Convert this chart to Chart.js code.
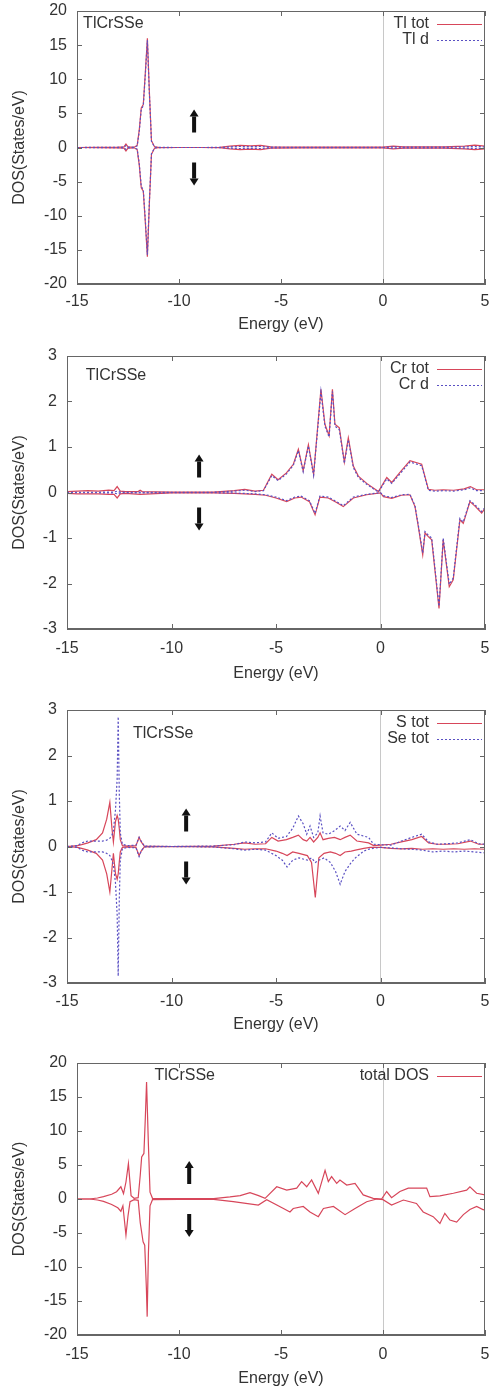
<!DOCTYPE html>
<html>
<head>
<meta charset="utf-8">
<title>TlCrSSe DOS</title>
<script src="https://cdn.jsdelivr.net/npm/chart.js@4.4.1/dist/chart.umd.min.js"></script>
<style>
  body { margin: 0; background: #fff; }
  .panel { position: absolute; left: 0; }
</style>
</head>
<body>
<canvas id="dosTl" class="panel" width="492" height="340" style="top:0px"></canvas>
<canvas id="dosCr" class="panel" width="492" height="350" style="top:340px"></canvas>
<canvas id="dosSSe" class="panel" width="492" height="350" style="top:690px"></canvas>
<canvas id="dosTot" class="panel" width="492" height="349" style="top:1040px"></canvas>
<script>
// tick labels
const energyTicks = [-15, -10, -5, 0, 5];
const dosTicks20 = [-20, -15, -10, -5, 0, 5, 10, 15, 20];
const dosTicks3 = [-3, -2, -1, 0, 1, 2, 3];

// Tl (panel 1)
const tlE = [-15, -14, -13, -12.7, -12.6, -12.5, -12.2, -12.05, -11.95, -11.85, -11.75, -11.65, -11.55, -11.45, -11.35, -11.2, -11, -10, -9, -8, -7.5, -7, -6.5, -6, -5.5, -4, -2, -1, 0, 0.5, 1, 2, 3, 4, 4.5, 5];
const tlTotUp = [0, 0.02, 0.05, 0.1, 0.5, 0.1, 0.05, 0.3, 2.5, 5.8, 6.3, 11, 16, 8, 1, 0.1, 0.02, 0, 0, 0.02, 0.2, 0.3, 0.25, 0.3, 0.1, 0.05, 0.05, 0.05, 0.05, 0.2, 0.1, 0.1, 0.1, 0.2, 0.35, 0.2];
const tlTotDn = [0, -0.02, -0.05, -0.1, -0.5, -0.1, -0.05, -0.3, -2.5, -5.9, -6.4, -11, -16, -8, -1, -0.1, -0.02, 0, 0, -0.02, -0.2, -0.3, -0.25, -0.3, -0.1, -0.05, -0.05, -0.05, -0.05, -0.2, -0.1, -0.1, -0.1, -0.2, -0.3, -0.2];
const tlDUp = [0, 0.01, 0.02, 0.05, 0.3, 0.05, 0.03, 0.25, 2.3, 5.6, 6.1, 10.7, 15.7, 7.8, 0.9, 0.08, 0.01, 0, 0, 0.01, 0.1, 0.15, 0.12, 0.15, 0.05, 0.02, 0.02, 0.02, 0.02, 0.1, 0.05, 0.05, 0.05, 0.1, 0.15, 0.1];
const tlDDn = [0, -0.01, -0.02, -0.05, -0.3, -0.05, -0.03, -0.25, -2.3, -5.7, -6.2, -10.7, -15.7, -7.8, -0.9, -0.08, -0.01, 0, 0, -0.01, -0.1, -0.15, -0.12, -0.15, -0.05, -0.02, -0.02, -0.02, -0.02, -0.1, -0.05, -0.05, -0.05, -0.1, -0.15, -0.1];

// Cr (panel 2)
const crUpE = [-15, -14.5, -14, -13.5, -13, -12.75, -12.6, -12.45, -12.2, -11.6, -11.5, -11.4, -10, -8, -7, -6.5, -6, -5.6, -5.2, -4.9, -4.5, -4.17, -3.93, -3.7, -3.45, -3.2, -2.85, -2.66, -2.46, -2.3, -2.18, -1.97, -1.73, -1.54, -1.3, -1.06, -0.66, -0.1, 0.3, 0.54, 0.93, 1.41, 1.97, 2.29, 2.6, 3, 3.5, 4, 4.3, 4.6, 5];
const crTotUp = [0.02, 0.03, 0.04, 0.03, 0.05, 0.04, 0.13, 0.03, 0.02, 0.02, 0.05, 0.02, 0.01, 0.01, 0.04, 0.07, 0.03, 0.05, 0.4, 0.28, 0.43, 0.62, 0.95, 0.48, 1.05, 0.4, 2.27, 1.5, 1.25, 2.27, 1.5, 1.42, 0.67, 1.2, 0.58, 0.36, 0.2, 0.02, 0.33, 0.22, 0.44, 0.7, 0.62, 0.07, 0.05, 0.06, 0.05, 0.08, 0.13, 0.06, 0.06];
const crDUp = [0.005, 0.005, 0.005, 0.005, 0.01, 0.01, 0.03, 0.01, 0.005, 0.005, 0.01, 0.005, 0.005, 0.005, 0.03, 0.05, 0.02, 0.04, 0.37, 0.26, 0.41, 0.6, 0.92, 0.46, 1.02, 0.38, 2.22, 1.46, 1.22, 2.22, 1.46, 1.38, 0.64, 1.16, 0.55, 0.33, 0.18, 0.01, 0.3, 0.2, 0.41, 0.67, 0.59, 0.05, 0.03, 0.04, 0.03, 0.06, 0.1, 0.04, 0.04];
const crDnE = [-15, -14.5, -14, -13.5, -13, -12.75, -12.6, -12.45, -12.2, -11.5, -10, -8, -7, -6, -5.5, -5, -4.49, -4.1, -3.8, -3.4, -3.13, -2.9, -2.5, -2.1, -1.78, -1.3, -0.66, 0, 0.14, 0.54, 1.0, 1.41, 1.65, 1.81, 2.02, 2.13, 2.29, 2.45, 2.8, 3.0, 3.29, 3.48, 3.8, 3.96, 4.28, 4.52, 4.84, 5];
const crTotDn = [-0.02, -0.03, -0.03, -0.03, -0.04, -0.04, -0.12, -0.03, -0.02, -0.04, -0.01, -0.01, -0.02, -0.04, -0.06, -0.12, -0.2, -0.12, -0.1, -0.2, -0.49, -0.1, -0.12, -0.22, -0.31, -0.12, -0.05, -0.01, -0.09, -0.13, -0.06, -0.05, -0.31, -0.75, -1.37, -0.89, -0.97, -1.04, -2.55, -1.04, -2.07, -1.92, -0.6, -0.68, -0.2, -0.3, -0.45, -0.35];
const crDDn = [-0.005, -0.005, -0.005, -0.005, -0.01, -0.01, -0.03, -0.01, -0.005, -0.01, -0.005, -0.005, -0.01, -0.03, -0.05, -0.1, -0.18, -0.1, -0.08, -0.18, -0.46, -0.08, -0.1, -0.2, -0.29, -0.1, -0.04, -0.005, -0.07, -0.11, -0.05, -0.04, -0.29, -0.72, -1.33, -0.86, -0.94, -1.0, -2.5, -1.0, -2.02, -1.88, -0.57, -0.65, -0.18, -0.27, -0.42, -0.33];

// S and Se (panel 3)
const ssUpE = [-15, -14.5, -14.3, -14, -13.6, -13.3, -13.1, -12.95, -12.85, -12.78, -12.68, -12.6, -12.55, -12.5, -12.45, -12.35, -12.1, -11.7, -11.55, -11.45, -11.3, -10, -8, -7, -6.5, -6, -5.5, -5.2, -4.9, -4.5, -4.2, -3.93, -3.7, -3.53, -3.37, -3.2, -3.0, -2.89, -2.75, -2.5, -2.2, -1.93, -1.7, -1.45, -1.13, -0.57, -0.33, 0, 0.5, 1.0, 1.5, 1.97, 2.3, 2.7, 3.2, 3.7, 4.3, 4.7, 5];
const sUp = [0, 0.02, 0.04, 0.08, 0.15, 0.3, 0.6, 0.97, 0.4, 0.1, 0.55, 0.68, 0.6, 0.4, 0.15, 0.02, 0.01, 0.02, 0.2, 0.1, 0.01, 0, 0.01, 0.05, 0.08, 0.05, 0.06, 0.2, 0.12, 0.15, 0.2, 0.25, 0.15, 0.12, 0.2, 0.1, 0.2, 0.3, 0.15, 0.18, 0.2, 0.15, 0.2, 0.25, 0.12, 0.08, 0.02, 0.03, 0.05, 0.1, 0.15, 0.22, 0.08, 0.05, 0.05, 0.06, 0.12, 0.05, 0.05];
const seUp = [0, 0.02, 0.08, 0.12, 0.12, 0.12, 0.14, 0.18, 0.25, 0.35, 0.8, 1.5, 2.85, 1.2, 0.3, 0.05, 0.02, 0.03, 0.2, 0.12, 0.01, 0, 0.01, 0.04, 0.1, 0.08, 0.1, 0.3, 0.18, 0.22, 0.4, 0.67, 0.5, 0.27, 0.45, 0.2, 0.3, 0.67, 0.3, 0.27, 0.35, 0.45, 0.35, 0.53, 0.27, 0.2, 0.05, 0.04, 0.03, 0.12, 0.2, 0.27, 0.1, 0.05, 0.06, 0.08, 0.15, 0.06, 0.05];
const ssDnE = [-15, -14.5, -14.3, -14, -13.6, -13.3, -13.1, -12.95, -12.85, -12.78, -12.68, -12.6, -12.55, -12.5, -12.45, -12.35, -12.1, -11.7, -11.55, -11.45, -11.3, -10, -8, -7, -6.5, -6, -5.5, -5.0, -4.7, -4.47, -4.2, -3.9, -3.5, -3.3, -3.12, -2.95, -2.7, -2.4, -2.15, -1.93, -1.7, -1.4, -1.2, -0.8, -0.5, 0, 0.5, 1.0, 1.5, 2.0, 2.5, 3.0, 3.5, 4.0, 4.5, 5];
const sDn = [0, -0.02, -0.04, -0.08, -0.15, -0.3, -0.6, -1.0, -0.5, -0.15, -0.6, -0.72, -0.6, -0.35, -0.12, -0.02, -0.01, -0.02, -0.2, -0.1, -0.01, 0, -0.01, -0.04, -0.06, -0.05, -0.05, -0.1, -0.15, -0.2, -0.12, -0.15, -0.2, -0.35, -1.12, -0.25, -0.15, -0.12, -0.15, -0.2, -0.12, -0.1, -0.08, -0.04, -0.02, -0.02, -0.04, -0.05, -0.04, -0.06, -0.05, -0.06, -0.05, -0.06, -0.05, -0.06];
const seDn = [0, -0.02, -0.08, -0.12, -0.12, -0.12, -0.15, -0.2, -0.3, -0.4, -0.8, -1.5, -2.85, -1.2, -0.3, -0.05, -0.02, -0.03, -0.22, -0.1, -0.01, 0, -0.01, -0.05, -0.08, -0.06, -0.08, -0.2, -0.3, -0.45, -0.3, -0.25, -0.3, -0.25, -0.35, -0.3, -0.25, -0.35, -0.55, -0.83, -0.55, -0.35, -0.25, -0.1, -0.05, -0.02, -0.03, -0.05, -0.06, -0.08, -0.12, -0.1, -0.12, -0.1, -0.12, -0.14];

// total DOS (panel 4)
const totUpE = [-15, -14.4, -14, -13.7, -13.3, -13.06, -12.85, -12.72, -12.6, -12.48, -12.35, -12.2, -12.0, -11.9, -11.83, -11.72, -11.65, -11.59, -11.5, -11.42, -11.3, -10, -8.3, -7.5, -7, -6.52, -6.1, -5.78, -5.21, -4.72, -4.23, -3.99, -3.74, -3.5, -3.17, -2.84, -2.68, -2.52, -2.27, -2.11, -1.78, -1.37, -0.97, -0.48, -0.07, 0.18, 0.42, 0.83, 1.24, 2.14, 2.3, 2.79, 3.45, 4.1, 4.26, 4.59, 5];
const totUp = [0, 0, 0.15, 0.34, 0.7, 1.08, 1.8, 0.8, 2.5, 5.2, 0.5, 0.1, 0.2, 3.5, 6.2, 6.7, 12, 17.2, 8, 1, 0.1, 0.05, 0.05, 0.3, 0.5, 0.93, 0.5, 0.1, 1.8, 1.3, 1.6, 2.55, 1.8, 2.8, 0.83, 4.2, 2.55, 3.3, 2.3, 2.8, 2.06, 2.3, 0.6, 0.1, 0.0, 1.1, 0.2, 1.1, 1.6, 1.6, 0.35, 0.45, 0.85, 1.3, 1.8, 0.85, 0.6];
const totDnE = [-15, -14.4, -14, -13.7, -13.3, -13.0, -12.85, -12.75, -12.6, -12.5, -12.4, -12.2, -12.0, -11.9, -11.76, -11.68, -11.6, -11.56, -11.5, -11.42, -11.3, -10, -8.3, -7.34, -6.11, -5.7, -4.88, -4.56, -4.4, -3.91, -3.58, -3.17, -2.92, -2.43, -1.86, -1.37, -0.8, -0.31, 0.0, 0.42, 1.0, 1.64, 1.97, 2.46, 2.79, 3.03, 3.28, 3.61, 3.94, 4.26, 4.59, 4.92, 5];
const totDn = [0, 0, -0.15, -0.35, -0.8, -1.3, -1.8, -1.0, -5.3, -2.5, -0.4, -0.1, -0.2, -3.5, -6.3, -6.8, -13, -17.3, -8, -1, -0.1, -0.05, -0.05, -0.4, -0.9, -0.1, -1.4, -1.9, -1.4, -1.1, -1.9, -2.6, -1.4, -1.1, -2.3, -1.4, -0.4, 0.0, -0.1, -0.9, -0.15, -0.65, -1.9, -2.6, -3.6, -2.1, -3.1, -3.4, -2.3, -1.55, -1.1, -1.6, -1.5];

const RED = 'rgb(215,70,90)';
const BLUE = 'rgb(90,80,195)';
const DOT = [2, 2];
const FONT = { family: '"Liberation Sans", Arial, sans-serif', size: 16 };
const TICKFONT = { family: '"Liberation Sans", Arial, sans-serif', size: 16, lineHeight: 1 };
const INK = '#333';

function pts(xs, ys) {
  return xs.map((x, i) => ({ x: x, y: ys[i] }));
}

function drawArrow(ctx, x, tailY, tipY) {
  const dir = tipY < tailY ? -1 : 1;
  const headBase = tipY - dir * 7;
  ctx.fillStyle = '#111';
  ctx.fillRect(x - 2, Math.min(tailY, headBase), 4, Math.abs(tailY - headBase));
  ctx.beginPath();
  ctx.moveTo(x, tipY);
  ctx.lineTo(x - 4.5, headBase);
  ctx.lineTo(x + 4.5, headBase);
  ctx.closePath();
  ctx.fill();
}

// gnuplot-like frame, inward ticks, label, legend and spin arrows
const gnuFrame = {
  id: 'gnuFrame',
  afterDatasetsDraw(chart, args, opts) {
    const { ctx, chartArea: a } = chart;
    const x = chart.scales.x, y = chart.scales.y;
    ctx.save();
    ctx.strokeStyle = '#666';
    ctx.lineWidth = 1;
    ctx.strokeRect(a.left + 0.5, a.top + 0.5, a.right - a.left - 1, a.bottom - a.top - 1);
    ctx.beginPath();
    x.ticks.forEach(t => {
      const px = Math.round(x.getPixelForValue(t.value)) + 0.5;
      ctx.moveTo(px, a.bottom); ctx.lineTo(px, a.bottom - 5);
      ctx.moveTo(px, a.top); ctx.lineTo(px, a.top + 5);
    });
    y.ticks.forEach(t => {
      const py = Math.round(y.getPixelForValue(t.value)) + 0.5;
      ctx.moveTo(a.left, py); ctx.lineTo(a.left + 5, py);
      ctx.moveTo(a.right, py); ctx.lineTo(a.right - 5, py);
    });
    ctx.stroke();

    ctx.font = FONT.size + 'px ' + FONT.family;
    ctx.fillStyle = INK;
    ctx.textBaseline = 'middle';
    ctx.textAlign = 'left';
    ctx.fillText(opts.label, x.getPixelForValue(opts.labelAt[0]), y.getPixelForValue(opts.labelAt[1]));

    opts.legend.forEach((item, i) => {
      const ly = a.top + 13 + i * 16;
      ctx.fillStyle = INK;
      ctx.textAlign = 'right';
      ctx.fillText(item.text, a.right - 56, ly);
      ctx.strokeStyle = item.color;
      ctx.setLineDash(item.dash || []);
      ctx.beginPath();
      ctx.moveTo(a.right - 48, ly + 0.5);
      ctx.lineTo(a.right - 3, ly + 0.5);
      ctx.stroke();
      ctx.setLineDash([]);
    });

    const y0 = y.getPixelForValue(0);
    const ax = x.getPixelForValue(opts.arrowAt);
    drawArrow(ctx, ax, y0 - 15, y0 - 38);
    drawArrow(ctx, ax, y0 + 15, y0 + 38);
    ctx.restore();
  }
};

function makePanel(p) {
  return new Chart(document.getElementById(p.id), {
    type: 'scatter',
    data: {
      datasets: p.series.map(s => ({
        data: pts(s.x, s.y),
        borderColor: s.color,
        borderDash: s.dash || [],
        borderWidth: 1.2,
        showLine: true,
        pointRadius: 0,
        tension: 0
      }))
    },
    options: {
      responsive: false,
      animation: false,
      layout: { padding: { top: p.top, right: 7, left: 0, bottom: 0 } },
      plugins: {
        legend: { display: false },
        tooltip: { enabled: false },
        gnuFrame: { label: 'TlCrSSe', labelAt: p.labelAt, legend: p.legend, arrowAt: p.arrowAt }
      },
      scales: {
        x: {
          type: 'linear', min: -15, max: 5,
          afterBuildTicks: s => { s.ticks = energyTicks.map(v => ({ value: v })); },
          afterFit: s => { s.height = p.h - p.bottom; },
          ticks: { color: INK, font: TICKFONT, padding: 0, maxRotation: 0 },
          grid: {
            drawTicks: true,
            tickLength: p.tickGap,
            tickColor: 'rgba(0,0,0,0)',
            color: c => (c.tick && c.tick.value === 0) ? '#c8c8c8' : 'rgba(0,0,0,0)'
          },
          border: { color: '#666' },
          title: { display: true, text: 'Energy (eV)', color: INK, font: FONT, padding: { top: 0, bottom: p.titlePad } }
        },
        y: {
          type: 'linear', min: p.yTicks[0], max: p.yTicks[p.yTicks.length - 1],
          afterBuildTicks: s => { s.ticks = p.yTicks.map(v => ({ value: v })); },
          afterFit: s => { s.width = p.left; },
          ticks: { color: INK, font: TICKFONT, padding: 2 },
          grid: { display: false },
          border: { color: '#666' },
          title: { display: true, text: 'DOS(States/eV)', color: INK, font: FONT, padding: { top: 10, bottom: 0 } }
        }
      }
    },
    plugins: [gnuFrame]
  });
}

makePanel({
  id: 'dosTl', h: 340, top: 11, bottom: 284, left: 77, tickGap: 10, titlePad: 5.4,
  yTicks: dosTicks20, labelAt: [-14.7, 18.2], arrowAt: -9.26,
  legend: [{ text: 'Tl tot', color: RED }, { text: 'Tl d', color: BLUE, dash: DOT }],
  series: [
    { x: tlE, y: tlDUp, color: BLUE, dash: DOT },
    { x: tlE, y: tlDDn, color: BLUE, dash: DOT },
    { x: tlE, y: tlTotUp, color: RED },
    { x: tlE, y: tlTotDn, color: RED }
  ]
});

makePanel({
  id: 'dosCr', h: 350, top: 16, bottom: 289, left: 67, tickGap: 12, titlePad: 6.4,
  yTicks: dosTicks3, labelAt: [-14.1, 2.58], arrowAt: -8.68,
  legend: [{ text: 'Cr tot', color: RED }, { text: 'Cr d', color: BLUE, dash: DOT }],
  series: [
    { x: crUpE, y: crDUp, color: BLUE, dash: DOT },
    { x: crDnE, y: crDDn, color: BLUE, dash: DOT },
    { x: crUpE, y: crTotUp, color: RED },
    { x: crDnE, y: crTotDn, color: RED }
  ]
});

makePanel({
  id: 'dosSSe', h: 350, top: 20, bottom: 293, left: 67, tickGap: 11, titlePad: 5.4,
  yTicks: dosTicks3, labelAt: [-11.84, 2.49], arrowAt: -9.3,
  legend: [{ text: 'S tot', color: RED }, { text: 'Se tot', color: BLUE, dash: DOT }],
  series: [
    { x: ssUpE, y: seUp, color: BLUE, dash: DOT },
    { x: ssDnE, y: seDn, color: BLUE, dash: DOT },
    { x: ssUpE, y: sUp, color: RED },
    { x: ssDnE, y: sDn, color: RED }
  ]
});

makePanel({
  id: 'dosTot', h: 349, top: 23, bottom: 295, left: 77, tickGap: 12, titlePad: 0.4,
  yTicks: dosTicks20, labelAt: [-11.2, 18.2], arrowAt: -9.5,
  legend: [{ text: 'total DOS', color: RED }],
  series: [
    { x: totUpE, y: totUp, color: RED },
    { x: totDnE, y: totDn, color: RED }
  ]
});
</script>
</body>
</html>
